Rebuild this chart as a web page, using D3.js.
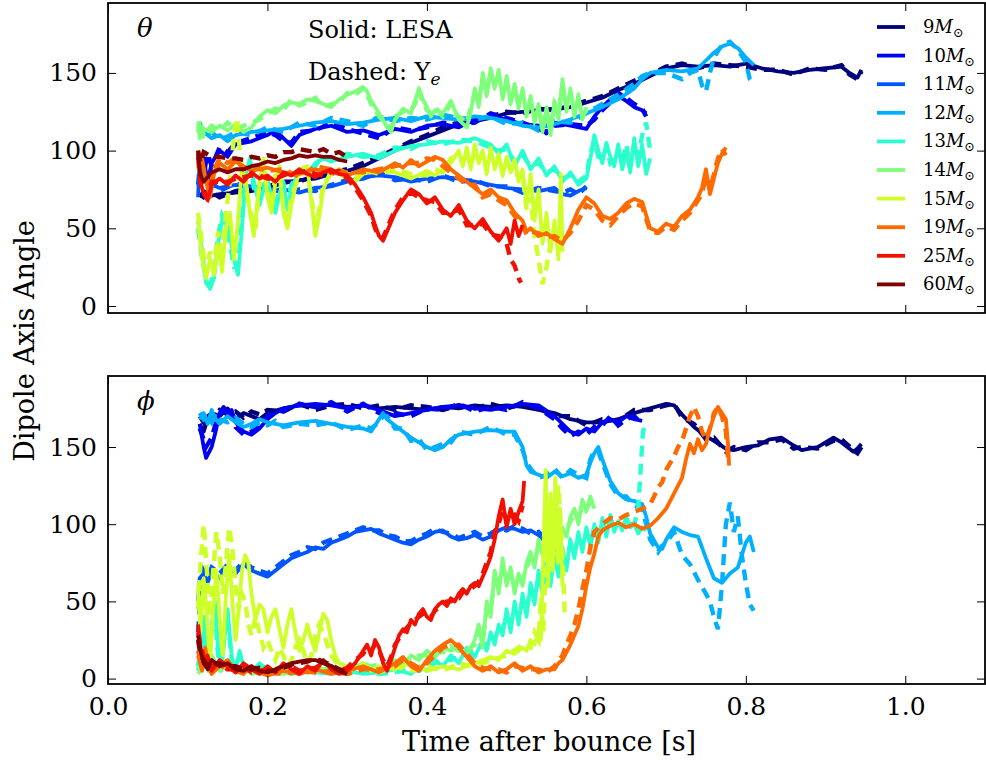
<!DOCTYPE html>
<html><head><meta charset="utf-8">
<script src="https://cdn.jsdelivr.net/npm/d3@7"></script>
<style>body{margin:0;background:#fff}svg{display:block}text{font-family:"DejaVu Serif",serif;fill:#000}</style>
</head><body><svg id="c" width="986" height="763"></svg>
<script>
const masses = [9,10,11,12,13,14,15,19,25,60];
const colors = ["#00007f","#0000f0","#0055ff","#00b0ff","#2affd0","#7dff7a","#ceff29","#ff6a00","#f01000","#800000"];
const xTicks = [0,0.2,0.4,0.6,0.8,1.0];
const yTicks = [0,50,100,150];

// ---------- theta panel (solid: LESA, dashed: Ye) ----------
const theta9L=[[0.115,70],[0.12,74],[0.13,71],[0.14,72],[0.16,73],[0.18,74],[0.2,76],[0.22,79],[0.24,81],[0.26,82],[0.28,85],[0.3,87],[0.32,90],[0.34,95],[0.36,100],[0.38,105],[0.4,109],[0.42,113],[0.44,117],[0.46,119],[0.48,121],[0.5,124],[0.52,125],[0.54,126],[0.56,127],[0.58,128],[0.6,131],[0.62,134],[0.64,139],[0.66,143],[0.68,148],[0.7,153],[0.72,155],[0.74,154],[0.76,155],[0.78,154],[0.8,156],[0.82,153],[0.84,151],[0.86,150],[0.88,152],[0.9,153],[0.92,154],[0.93,150],[0.94,147],[0.945,152]];
const theta9Y=[[0.115,72],[0.12,70],[0.13,73],[0.14,70],[0.16,74],[0.18,76],[0.2,77],[0.22,80],[0.24,80],[0.26,84],[0.28,86],[0.3,88],[0.32,92],[0.34,96],[0.36,101],[0.38,106],[0.4,110],[0.42,115],[0.44,118],[0.46,120],[0.48,122],[0.5,125],[0.52,124],[0.54,127],[0.56,126],[0.58,129],[0.6,132],[0.62,135],[0.64,140],[0.66,145],[0.68,149],[0.7,154],[0.72,156],[0.74,153],[0.76,156],[0.78,155],[0.8,154],[0.82,152],[0.84,152],[0.86,149],[0.88,153],[0.9,152],[0.92,155],[0.93,149],[0.94,146],[0.945,151]];
const theta10L=[[0.115,88],[0.12,95],[0.125,80],[0.13,92],[0.14,100],[0.15,96],[0.16,104],[0.18,106],[0.2,110],[0.21,113],[0.22,108],[0.23,103],[0.24,110],[0.26,114],[0.28,116],[0.3,112],[0.32,113],[0.34,110],[0.36,114],[0.38,112],[0.4,116],[0.42,117],[0.44,115],[0.46,120],[0.48,122],[0.5,120],[0.52,117],[0.54,116],[0.55,111],[0.56,118],[0.58,116],[0.6,114],[0.61,122],[0.62,128],[0.63,133],[0.64,135],[0.65,132],[0.66,128],[0.67,126],[0.675,124]];
const theta10Y=[[0.115,92],[0.12,85],[0.125,98],[0.13,90],[0.14,102],[0.15,99],[0.16,105],[0.18,108],[0.2,112],[0.21,110],[0.22,106],[0.23,105],[0.24,112],[0.26,113],[0.28,118],[0.3,114],[0.32,111],[0.34,108],[0.36,115],[0.38,113],[0.4,115],[0.42,118],[0.44,117],[0.46,118],[0.48,124],[0.5,121],[0.52,118],[0.54,114],[0.55,112],[0.56,116],[0.58,117],[0.6,116],[0.61,120],[0.62,126],[0.63,131],[0.64,137],[0.65,134],[0.66,130],[0.67,127],[0.675,122]];
const theta11L=[[0.113,70],[0.115,95],[0.12,85],[0.13,78],[0.14,76],[0.16,78],[0.18,77],[0.2,74],[0.22,75],[0.24,73],[0.26,76],[0.28,77],[0.3,80],[0.32,83],[0.34,84],[0.36,83],[0.38,80],[0.4,82],[0.42,83],[0.44,82],[0.46,80],[0.48,78],[0.5,76],[0.52,75],[0.54,74],[0.56,76],[0.57,72],[0.58,71],[0.59,74],[0.6,76]];
const theta11Y=[[0.113,78],[0.115,90],[0.12,82],[0.13,80],[0.14,74],[0.16,79],[0.18,75],[0.2,76],[0.22,73],[0.24,75],[0.26,74],[0.28,78],[0.3,81],[0.32,82],[0.34,86],[0.36,81],[0.38,82],[0.4,80],[0.42,84],[0.44,80],[0.46,81],[0.48,77],[0.5,77],[0.52,73],[0.54,76],[0.56,74],[0.57,73],[0.58,75],[0.59,72],[0.6,77]];
const theta12L=[[0.115,115],[0.12,112],[0.13,108],[0.14,110],[0.15,106],[0.16,110],[0.18,112],[0.2,113],[0.22,114],[0.24,116],[0.26,118],[0.28,119],[0.3,117],[0.32,118],[0.34,120],[0.36,121],[0.38,119],[0.4,122],[0.42,121],[0.44,120],[0.46,122],[0.48,121],[0.5,119],[0.52,116],[0.54,115],[0.56,117],[0.58,120],[0.6,124],[0.62,128],[0.64,133],[0.66,140],[0.67,146],[0.68,150],[0.7,152],[0.72,151],[0.74,153],[0.75,158],[0.76,163],[0.77,167],[0.78,169],[0.79,166],[0.8,160],[0.81,155]];
const theta12Y=[[0.115,118],[0.12,110],[0.13,112],[0.14,107],[0.15,109],[0.16,112],[0.18,110],[0.2,115],[0.22,112],[0.24,118],[0.26,116],[0.28,121],[0.3,119],[0.32,116],[0.34,122],[0.36,119],[0.38,121],[0.4,120],[0.42,123],[0.44,121],[0.46,120],[0.48,122],[0.5,117],[0.52,118],[0.54,113],[0.56,119],[0.58,118],[0.6,124],[0.62,130],[0.64,136],[0.66,143],[0.67,148],[0.68,150],[0.7,150],[0.72,146],[0.73,150],[0.74,152],[0.745,142],[0.75,138],[0.755,150],[0.76,160],[0.77,168],[0.78,170],[0.79,165],[0.8,157],[0.805,146],[0.81,143]];
const theta13L=[[0.113,55],[0.118,35],[0.123,15],[0.128,11],[0.133,18],[0.138,40],[0.143,55],[0.148,58],[0.153,45],[0.158,30],[0.163,20],[0.168,50],[0.173,85],[0.178,95],[0.183,80],[0.19,65],[0.195,75],[0.2,82],[0.205,70],[0.21,60],[0.215,72],[0.22,80],[0.225,62],[0.23,75],[0.24,88],[0.25,85],[0.26,92],[0.27,95],[0.28,93],[0.3,96],[0.32,98],[0.34,95],[0.36,100],[0.38,103],[0.4,104],[0.42,106],[0.44,105],[0.46,108],[0.48,104],[0.49,98],[0.5,104],[0.51,90],[0.52,100],[0.53,88],[0.54,95],[0.55,84],[0.56,90],[0.57,80],[0.58,86],[0.59,78],[0.6,82],[0.605,95],[0.61,110],[0.615,100],[0.62,92],[0.625,105],[0.63,96],[0.635,90],[0.64,104],[0.645,88],[0.65,100],[0.655,86],[0.66,108],[0.665,90],[0.67,104],[0.675,85],[0.68,95]];
const theta13Y=[[0.113,50],[0.118,30],[0.123,18],[0.128,14],[0.133,22],[0.138,45],[0.143,58],[0.148,52],[0.153,40],[0.158,25],[0.163,25],[0.168,55],[0.173,88],[0.178,92],[0.183,76],[0.19,68],[0.195,78],[0.2,80],[0.205,66],[0.21,64],[0.215,76],[0.22,78],[0.225,66],[0.23,78],[0.24,86],[0.25,88],[0.26,90],[0.27,97],[0.28,94],[0.3,98],[0.32,96],[0.34,97],[0.36,102],[0.38,101],[0.4,106],[0.42,104],[0.44,107],[0.46,106],[0.48,102],[0.49,100],[0.5,101],[0.51,93],[0.52,97],[0.53,90],[0.54,92],[0.55,86],[0.56,88],[0.57,82],[0.58,84],[0.59,80],[0.6,84],[0.605,98],[0.61,106],[0.615,96],[0.62,95],[0.625,102],[0.63,92],[0.635,95],[0.64,100],[0.645,92],[0.65,104],[0.655,90],[0.66,104],[0.665,95],[0.67,110],[0.675,118],[0.68,100]];
const theta14L=[[0.113,118],[0.115,108],[0.12,114],[0.13,112],[0.14,116],[0.15,113],[0.16,117],[0.17,112],[0.18,115],[0.19,122],[0.2,126],[0.21,124],[0.22,129],[0.23,131],[0.24,130],[0.25,133],[0.26,132],[0.27,130],[0.28,128],[0.29,133],[0.3,136],[0.31,138],[0.32,141],[0.325,138],[0.33,132],[0.34,124],[0.35,115],[0.355,112],[0.36,120],[0.37,127],[0.38,124],[0.385,132],[0.39,140],[0.395,133],[0.4,128],[0.405,122],[0.41,126],[0.42,124],[0.43,132],[0.435,126],[0.44,120],[0.45,115],[0.455,125],[0.46,140],[0.465,128],[0.47,150],[0.475,135],[0.48,153],[0.485,140],[0.49,152],[0.495,133],[0.5,148],[0.505,130],[0.51,143],[0.515,127],[0.52,140],[0.525,122],[0.53,135],[0.535,118],[0.54,130],[0.545,112],[0.55,128],[0.555,110],[0.56,132],[0.565,120],[0.57,146],[0.575,125],[0.58,140],[0.585,122],[0.59,136],[0.595,120],[0.6,128]];
const theta14Y=[[0.113,112],[0.115,120],[0.12,110],[0.13,116],[0.14,113],[0.15,118],[0.16,114],[0.17,116],[0.18,118],[0.19,120],[0.2,124],[0.21,127],[0.22,126],[0.23,133],[0.24,129],[0.25,131],[0.26,134],[0.27,128],[0.28,130],[0.29,131],[0.3,137],[0.31,136],[0.32,140],[0.325,136],[0.33,130],[0.34,122],[0.35,117],[0.355,114],[0.36,122],[0.37,125],[0.38,126],[0.385,130],[0.39,138],[0.395,131],[0.4,126],[0.405,124],[0.41,128],[0.42,122],[0.43,130],[0.435,124],[0.44,122],[0.45,118],[0.455,128],[0.46,136],[0.465,132],[0.47,146],[0.475,138],[0.48,150],[0.485,142],[0.49,148],[0.495,136],[0.5,145],[0.505,132],[0.51,140],[0.515,130],[0.52,137],[0.525,125],[0.53,132],[0.535,120],[0.54,127],[0.545,115],[0.55,125],[0.555,114],[0.56,130],[0.565,124],[0.57,142],[0.575,128],[0.58,137],[0.585,125],[0.59,133],[0.595,122],[0.6,126]];
const theta15L=[[0.113,55],[0.118,30],[0.123,18],[0.128,30],[0.133,20],[0.138,40],[0.143,22],[0.148,50],[0.153,60],[0.158,30],[0.163,55],[0.168,90],[0.173,80],[0.178,60],[0.183,45],[0.19,80],[0.195,95],[0.2,70],[0.205,60],[0.21,80],[0.215,90],[0.22,60],[0.225,50],[0.23,65],[0.24,88],[0.25,90],[0.255,68],[0.26,45],[0.265,58],[0.27,75],[0.28,88],[0.29,85],[0.3,82],[0.31,80],[0.32,85],[0.34,88],[0.36,86],[0.38,82],[0.4,87],[0.41,84],[0.42,88],[0.43,92],[0.44,100],[0.445,90],[0.45,102],[0.455,88],[0.46,104],[0.465,92],[0.47,100],[0.475,85],[0.48,102],[0.485,88],[0.49,98],[0.495,84],[0.5,96],[0.505,86],[0.51,94],[0.515,80],[0.52,88],[0.525,65],[0.53,85],[0.535,55],[0.54,75],[0.545,40],[0.55,60],[0.555,35],[0.56,55],[0.565,30],[0.568,85],[0.57,35]];
const theta15Y=[[0.113,60],[0.118,40],[0.123,22],[0.128,35],[0.133,25],[0.138,48],[0.143,30],[0.148,60],[0.153,80],[0.158,110],[0.162,121],[0.166,95],[0.17,85],[0.175,70],[0.18,58],[0.185,50],[0.19,78],[0.195,90],[0.2,74],[0.205,64],[0.21,84],[0.215,86],[0.22,64],[0.225,56],[0.23,70],[0.24,85],[0.25,86],[0.255,70],[0.26,52],[0.265,62],[0.27,78],[0.28,85],[0.29,88],[0.3,85],[0.31,82],[0.32,88],[0.34,85],[0.36,88],[0.38,85],[0.4,84],[0.41,88],[0.42,86],[0.43,95],[0.44,97],[0.445,92],[0.45,99],[0.455,90],[0.46,100],[0.465,94],[0.47,97],[0.475,88],[0.48,98],[0.485,90],[0.49,95],[0.495,86],[0.5,93],[0.505,88],[0.51,90],[0.515,82],[0.52,84],[0.525,62],[0.53,70],[0.535,45],[0.54,30],[0.545,14],[0.55,25],[0.555,40],[0.56,50],[0.565,38]];
const theta19L=[[0.113,88],[0.118,95],[0.123,80],[0.128,70],[0.133,85],[0.14,92],[0.15,88],[0.16,93],[0.17,90],[0.18,87],[0.2,89],[0.22,86],[0.24,85],[0.26,88],[0.28,86],[0.3,84],[0.32,88],[0.34,86],[0.36,92],[0.37,89],[0.38,94],[0.39,90],[0.4,93],[0.41,96],[0.42,94],[0.43,88],[0.44,84],[0.45,80],[0.46,76],[0.47,72],[0.48,75],[0.49,70],[0.5,68],[0.51,60],[0.52,55],[0.525,48],[0.53,50],[0.54,45],[0.55,47],[0.56,43],[0.57,40],[0.58,50],[0.59,62],[0.6,70],[0.61,66],[0.62,58],[0.63,56],[0.64,60],[0.65,66],[0.66,69],[0.67,67],[0.68,50],[0.69,48],[0.7,53],[0.71,51],[0.72,58],[0.73,62],[0.74,70],[0.745,76],[0.75,88],[0.755,72],[0.76,82],[0.765,92],[0.77,98],[0.775,102]];
const theta19Y=[[0.113,92],[0.118,90],[0.123,84],[0.128,74],[0.133,88],[0.14,95],[0.15,92],[0.16,95],[0.17,88],[0.18,90],[0.2,87],[0.22,88],[0.24,83],[0.26,90],[0.28,88],[0.3,86],[0.32,86],[0.34,88],[0.36,90],[0.37,91],[0.38,92],[0.39,92],[0.4,95],[0.41,94],[0.42,90],[0.43,86],[0.44,82],[0.45,78],[0.46,78],[0.47,70],[0.48,72],[0.49,68],[0.5,65],[0.51,58],[0.52,52],[0.525,46],[0.53,48],[0.54,47],[0.55,44],[0.56,45],[0.57,42],[0.58,47],[0.59,55],[0.6,65],[0.61,62],[0.62,55],[0.63,52],[0.64,58],[0.65,63],[0.66,66],[0.67,64],[0.68,48],[0.69,47],[0.7,51],[0.71,49],[0.72,55],[0.73,60],[0.74,68],[0.745,72],[0.75,84],[0.755,75],[0.76,85],[0.765,95],[0.77,101],[0.775,97]];
const theta25L=[[0.113,100],[0.116,80],[0.12,72],[0.125,68],[0.13,78],[0.14,82],[0.15,78],[0.16,84],[0.17,80],[0.18,86],[0.19,82],[0.2,84],[0.21,80],[0.22,86],[0.23,84],[0.24,88],[0.25,85],[0.26,83],[0.27,86],[0.28,88],[0.29,85],[0.3,84],[0.31,78],[0.32,70],[0.33,60],[0.335,52],[0.34,45],[0.345,42],[0.35,48],[0.36,60],[0.37,68],[0.38,75],[0.39,72],[0.4,66],[0.41,70],[0.42,62],[0.43,58],[0.44,65],[0.45,55],[0.46,50],[0.47,56],[0.48,48],[0.49,42],[0.5,50],[0.505,40],[0.51,55],[0.515,45],[0.52,52]];
const theta25Y=[[0.113,96],[0.116,78],[0.12,75],[0.125,70],[0.13,80],[0.14,80],[0.15,80],[0.16,82],[0.17,83],[0.18,84],[0.19,84],[0.2,82],[0.21,82],[0.22,84],[0.23,86],[0.24,86],[0.25,87],[0.26,85],[0.27,84],[0.28,86],[0.29,87],[0.3,82],[0.31,76],[0.32,68],[0.33,58],[0.335,50],[0.34,44],[0.345,44],[0.35,50],[0.36,62],[0.37,70],[0.38,73],[0.39,70],[0.4,68],[0.41,67],[0.42,60],[0.43,60],[0.44,62],[0.45,52],[0.46,52],[0.47,53],[0.48,46],[0.49,45],[0.5,40],[0.505,30],[0.51,26],[0.515,18],[0.518,15]];
const theta60L=[[0.113,98],[0.116,84],[0.12,80],[0.125,83],[0.13,86],[0.14,88],[0.15,86],[0.16,88],[0.17,88],[0.18,90],[0.19,91],[0.2,93],[0.21,92],[0.22,94],[0.23,95],[0.24,97],[0.25,96],[0.26,97],[0.27,96],[0.28,96],[0.29,94],[0.3,93]];
const theta60Y=[[0.113,100],[0.116,92],[0.12,99],[0.13,96],[0.14,96],[0.15,95],[0.16,95],[0.17,94],[0.18,96],[0.19,95],[0.2,97],[0.21,96],[0.22,99],[0.23,99],[0.24,101],[0.25,100],[0.26,99],[0.27,101],[0.28,98],[0.29,99],[0.3,96]];

// ---------- phi panel ----------
const phi9L=[[0.115,165],[0.12,160],[0.125,168],[0.13,172],[0.14,170],[0.15,175],[0.16,168],[0.17,172],[0.18,170],[0.19,168],[0.2,172],[0.22,175],[0.24,177],[0.26,176],[0.28,178],[0.3,176],[0.32,177],[0.34,175],[0.36,176],[0.38,175],[0.4,174],[0.42,176],[0.44,175],[0.46,177],[0.48,176],[0.5,177],[0.52,176],[0.54,174],[0.56,172],[0.58,168],[0.6,166],[0.62,166],[0.64,168],[0.66,172],[0.68,175],[0.7,178],[0.71,177],[0.72,171],[0.735,163],[0.75,157],[0.76,154],[0.775,149],[0.785,148],[0.8,150],[0.815,151],[0.83,155],[0.845,156],[0.86,151],[0.87,148],[0.89,150],[0.91,156],[0.92,153],[0.935,147],[0.94,149],[0.945,152]];
const phi9Y=[[0.115,170],[0.12,166],[0.125,172],[0.13,168],[0.14,174],[0.15,171],[0.16,173],[0.17,169],[0.18,173],[0.19,171],[0.2,174],[0.22,173],[0.24,178],[0.26,174],[0.28,177],[0.3,178],[0.32,175],[0.34,177],[0.36,174],[0.38,177],[0.4,176],[0.42,174],[0.44,177],[0.46,175],[0.48,178],[0.5,175],[0.52,178],[0.54,175],[0.56,170],[0.58,170],[0.6,164],[0.62,168],[0.64,167],[0.66,174],[0.68,174],[0.7,177],[0.71,178],[0.72,169],[0.735,165],[0.75,155],[0.76,156],[0.775,147],[0.785,150],[0.8,148],[0.815,153],[0.83,153],[0.845,155],[0.86,149],[0.87,150],[0.89,149],[0.91,154],[0.92,155],[0.935,148],[0.94,146],[0.945,150]];
const phi10L=[[0.115,165],[0.12,150],[0.123,143],[0.13,150],[0.135,160],[0.14,172],[0.145,176],[0.15,172],[0.155,174],[0.16,166],[0.17,160],[0.18,158],[0.19,162],[0.2,168],[0.21,172],[0.22,175],[0.24,177],[0.26,178],[0.28,177],[0.3,175],[0.32,177],[0.34,174],[0.36,170],[0.38,172],[0.4,174],[0.42,176],[0.44,177],[0.46,175],[0.48,174],[0.5,176],[0.52,178],[0.54,177],[0.56,170],[0.57,165],[0.58,160],[0.59,158],[0.6,162],[0.61,160],[0.62,166],[0.63,168],[0.64,166],[0.65,170],[0.66,168],[0.67,167]];
const phi10Y=[[0.115,162],[0.12,155],[0.123,150],[0.13,156],[0.135,165],[0.14,170],[0.145,174],[0.15,168],[0.155,171],[0.16,163],[0.17,158],[0.18,160],[0.19,164],[0.2,170],[0.21,174],[0.22,173],[0.24,178],[0.26,176],[0.28,179],[0.3,173],[0.32,178],[0.34,172],[0.36,172],[0.38,170],[0.4,175],[0.42,174],[0.44,178],[0.46,173],[0.48,176],[0.5,174],[0.52,179],[0.54,175],[0.56,168],[0.57,162],[0.58,157],[0.59,160],[0.6,158],[0.61,163],[0.62,164],[0.63,170],[0.64,164],[0.65,168],[0.66,170],[0.67,165]];
const phi11L=[[0.113,50],[0.115,65],[0.12,68],[0.125,62],[0.13,70],[0.14,65],[0.15,72],[0.16,68],[0.17,74],[0.18,70],[0.19,68],[0.2,66],[0.21,70],[0.22,74],[0.23,78],[0.24,80],[0.25,82],[0.26,85],[0.27,84],[0.28,88],[0.29,90],[0.3,92],[0.31,95],[0.32,96],[0.33,97],[0.34,94],[0.35,92],[0.36,90],[0.37,88],[0.38,87],[0.39,90],[0.4,92],[0.41,95],[0.42,96],[0.43,92],[0.44,90],[0.45,91],[0.46,93],[0.47,90],[0.48,92],[0.49,96],[0.5,98],[0.51,97],[0.52,95],[0.53,96],[0.54,93],[0.55,88],[0.56,86],[0.57,84]];
const phi11Y=[[0.113,30],[0.115,45],[0.118,62],[0.12,70],[0.125,66],[0.13,72],[0.14,68],[0.15,74],[0.16,70],[0.17,76],[0.18,72],[0.19,70],[0.2,68],[0.21,72],[0.22,76],[0.23,80],[0.24,82],[0.25,85],[0.26,84],[0.27,88],[0.28,90],[0.29,92],[0.3,94],[0.31,96],[0.32,98],[0.33,96],[0.34,96],[0.35,93],[0.36,92],[0.37,89],[0.38,89],[0.39,92],[0.4,94],[0.41,97],[0.42,95],[0.43,94],[0.44,91],[0.45,93],[0.46,95],[0.47,92],[0.48,94],[0.49,97],[0.5,96],[0.51,99],[0.52,97],[0.53,94],[0.54,95],[0.55,90],[0.56,84],[0.57,82]];
const phi12L=[[0.115,168],[0.12,172],[0.125,165],[0.13,174],[0.135,168],[0.14,165],[0.15,170],[0.16,166],[0.17,163],[0.18,165],[0.19,168],[0.2,166],[0.21,165],[0.22,164],[0.24,166],[0.26,167],[0.28,165],[0.3,163],[0.32,162],[0.33,160],[0.34,168],[0.345,172],[0.35,168],[0.36,164],[0.37,160],[0.38,156],[0.39,153],[0.4,150],[0.41,148],[0.42,150],[0.43,155],[0.44,158],[0.46,160],[0.48,161],[0.5,160],[0.51,160],[0.52,150],[0.525,138],[0.53,134],[0.54,132],[0.55,130],[0.56,134],[0.57,131],[0.58,133],[0.59,130],[0.6,132],[0.605,140],[0.61,146],[0.615,150],[0.62,142],[0.63,128],[0.64,120],[0.65,116],[0.66,115],[0.67,113],[0.675,105],[0.68,94],[0.69,85],[0.695,84],[0.7,90],[0.71,98],[0.72,95],[0.73,93],[0.74,92],[0.75,78],[0.76,65],[0.77,62],[0.78,68],[0.79,72],[0.8,88],[0.805,92],[0.81,82]];
const phi12Y=[[0.115,172],[0.12,168],[0.125,170],[0.13,166],[0.135,172],[0.14,168],[0.15,166],[0.16,169],[0.17,165],[0.18,163],[0.19,166],[0.2,164],[0.21,167],[0.22,163],[0.24,165],[0.26,164],[0.28,166],[0.3,161],[0.32,164],[0.33,162],[0.34,166],[0.345,170],[0.35,170],[0.36,162],[0.37,162],[0.38,154],[0.39,155],[0.4,148],[0.41,150],[0.42,152],[0.43,153],[0.44,160],[0.46,158],[0.48,163],[0.5,158],[0.51,158],[0.52,148],[0.525,140],[0.53,136],[0.54,130],[0.55,132],[0.56,136],[0.57,130],[0.58,135],[0.59,132],[0.6,130],[0.605,142],[0.61,148],[0.615,147],[0.62,140],[0.63,126],[0.64,118],[0.65,118],[0.66,112],[0.67,110],[0.675,100],[0.68,90],[0.69,82],[0.695,86],[0.7,88],[0.71,95],[0.72,80],[0.73,74],[0.74,64],[0.75,55],[0.755,50],[0.76,40],[0.765,32],[0.77,60],[0.775,100],[0.78,114],[0.785,95],[0.79,105],[0.795,80],[0.8,62],[0.805,48],[0.81,44]];
const phi13L=[[0.113,5],[0.117,20],[0.12,40],[0.123,15],[0.126,5],[0.13,30],[0.134,50],[0.138,20],[0.142,5],[0.146,25],[0.15,45],[0.155,15],[0.16,5],[0.165,18],[0.17,8],[0.18,4],[0.19,10],[0.2,6],[0.21,3],[0.22,8],[0.23,5],[0.24,3],[0.25,6],[0.26,4],[0.28,3],[0.3,5],[0.32,3],[0.34,4],[0.36,6],[0.38,3],[0.39,8],[0.4,5],[0.41,12],[0.42,8],[0.43,15],[0.44,10],[0.45,20],[0.46,14],[0.47,25],[0.475,18],[0.48,30],[0.485,22],[0.49,35],[0.495,28],[0.5,45],[0.505,30],[0.51,50],[0.515,35],[0.52,55],[0.525,40],[0.53,62],[0.535,48],[0.54,70],[0.545,55],[0.55,75],[0.555,60],[0.56,80],[0.565,66],[0.57,85],[0.575,70],[0.58,90],[0.585,78],[0.59,95],[0.595,82],[0.6,98],[0.605,85],[0.61,100],[0.615,88],[0.62,104],[0.625,92],[0.63,106],[0.635,95],[0.64,102],[0.645,96],[0.65,105],[0.655,98],[0.66,100],[0.665,94],[0.67,98],[0.675,96]];
const phi13Y=[[0.113,8],[0.117,25],[0.12,35],[0.123,10],[0.126,8],[0.13,35],[0.134,45],[0.138,15],[0.142,8],[0.146,30],[0.15,40],[0.155,12],[0.16,8],[0.165,15],[0.17,5],[0.18,6],[0.19,8],[0.2,4],[0.21,5],[0.22,6],[0.23,3],[0.24,5],[0.25,4],[0.26,6],[0.28,4],[0.3,3],[0.32,5],[0.34,3],[0.36,4],[0.38,6],[0.39,5],[0.4,8],[0.41,10],[0.42,12],[0.43,12],[0.44,14],[0.45,16],[0.46,18],[0.47,22],[0.475,22],[0.48,27],[0.485,26],[0.49,32],[0.495,32],[0.5,40],[0.505,35],[0.51,45],[0.515,40],[0.52,50],[0.525,45],[0.53,58],[0.535,52],[0.54,66],[0.545,58],[0.55,72],[0.555,64],[0.56,78],[0.565,70],[0.57,82],[0.575,74],[0.58,88],[0.585,82],[0.59,92],[0.595,86],[0.6,95],[0.605,88],[0.61,98],[0.615,92],[0.62,100],[0.625,95],[0.63,103],[0.635,98],[0.64,100],[0.645,98],[0.65,102],[0.655,100],[0.66,100],[0.665,110],[0.668,135],[0.671,160],[0.673,164]];
const phi14L=[[0.113,3],[0.12,8],[0.13,15],[0.14,5],[0.15,10],[0.16,4],[0.17,8],[0.18,3],[0.2,5],[0.22,3],[0.24,6],[0.26,4],[0.28,8],[0.3,5],[0.32,10],[0.34,6],[0.36,12],[0.37,8],[0.38,15],[0.39,12],[0.4,18],[0.41,14],[0.42,20],[0.43,18],[0.44,20],[0.45,15],[0.46,25],[0.465,35],[0.47,20],[0.475,50],[0.48,40],[0.485,70],[0.49,55],[0.495,78],[0.5,60],[0.505,72],[0.51,55],[0.515,68],[0.52,60],[0.525,75],[0.53,82],[0.535,72],[0.54,90],[0.545,80],[0.55,95],[0.555,85],[0.56,100],[0.565,88],[0.57,98],[0.575,92],[0.58,105],[0.585,110],[0.59,100],[0.595,116],[0.6,108],[0.605,118],[0.61,110]];
const phi14Y=[[0.113,6],[0.12,12],[0.13,10],[0.14,8],[0.15,6],[0.16,8],[0.17,5],[0.18,6],[0.2,3],[0.22,6],[0.24,4],[0.26,7],[0.28,5],[0.3,8],[0.32,7],[0.34,9],[0.36,9],[0.37,12],[0.38,12],[0.39,15],[0.4,15],[0.41,17],[0.42,17],[0.43,21],[0.44,18],[0.45,18],[0.46,22],[0.465,30],[0.47,25],[0.475,45],[0.48,45],[0.485,65],[0.49,60],[0.495,72],[0.5,66],[0.505,68],[0.51,60],[0.515,65],[0.52,64],[0.525,72],[0.53,78],[0.535,76],[0.54,86],[0.545,84],[0.55,92],[0.555,88],[0.56,96],[0.565,92],[0.57,95],[0.575,96],[0.58,102],[0.585,106],[0.59,104],[0.595,112],[0.6,110],[0.605,114],[0.61,112]];
const phi15L=[[0.113,60],[0.116,30],[0.12,65],[0.124,40],[0.128,10],[0.132,45],[0.136,70],[0.14,40],[0.144,15],[0.148,55],[0.152,80],[0.156,50],[0.16,25],[0.164,45],[0.168,70],[0.172,80],[0.176,75],[0.18,55],[0.185,38],[0.19,48],[0.195,45],[0.2,30],[0.205,40],[0.21,45],[0.215,32],[0.22,20],[0.225,35],[0.23,45],[0.235,30],[0.24,18],[0.245,25],[0.25,35],[0.255,25],[0.26,18],[0.265,30],[0.27,42],[0.275,38],[0.28,25],[0.285,15],[0.29,10],[0.3,8],[0.31,6],[0.32,10],[0.33,5],[0.34,8],[0.36,6],[0.38,10],[0.4,5],[0.42,8],[0.44,6],[0.46,10],[0.48,14],[0.49,12],[0.5,18],[0.51,16],[0.52,20],[0.525,18],[0.53,25],[0.535,22],[0.54,30],[0.543,25],[0.546,80],[0.549,135],[0.552,60],[0.555,120],[0.558,70],[0.561,130],[0.564,75],[0.567,110],[0.57,60]];
const phi15Y=[[0.113,45],[0.116,75],[0.12,100],[0.124,70],[0.128,40],[0.132,70],[0.136,95],[0.14,80],[0.144,55],[0.148,75],[0.152,98],[0.156,85],[0.16,60],[0.164,45],[0.168,55],[0.172,50],[0.176,35],[0.18,28],[0.185,40],[0.19,30],[0.195,20],[0.2,25],[0.205,18],[0.21,12],[0.215,20],[0.22,15],[0.225,8],[0.23,12],[0.235,20],[0.24,25],[0.245,18],[0.25,10],[0.255,15],[0.26,28],[0.265,35],[0.27,30],[0.275,22],[0.28,15],[0.29,8],[0.3,5],[0.32,8],[0.34,4],[0.36,8],[0.38,5],[0.4,8],[0.42,5],[0.44,10],[0.46,8],[0.48,12],[0.5,15],[0.52,22],[0.53,20],[0.535,30],[0.54,25],[0.543,53],[0.546,30],[0.55,90],[0.555,115],[0.56,95],[0.565,125],[0.57,80],[0.573,40]];
const phi19L=[[0.113,15],[0.118,5],[0.122,20],[0.126,8],[0.13,3],[0.14,8],[0.15,12],[0.16,5],[0.17,3],[0.18,8],[0.19,4],[0.2,2],[0.22,5],[0.24,3],[0.26,6],[0.28,3],[0.3,5],[0.32,8],[0.34,4],[0.36,10],[0.37,14],[0.38,8],[0.39,5],[0.4,12],[0.41,18],[0.42,22],[0.43,25],[0.44,20],[0.45,14],[0.46,8],[0.47,5],[0.48,8],[0.49,4],[0.5,6],[0.51,10],[0.52,5],[0.53,8],[0.54,4],[0.55,6],[0.56,6],[0.565,10],[0.57,12],[0.575,17],[0.58,22],[0.585,28],[0.59,34],[0.595,45],[0.6,60],[0.605,72],[0.61,81],[0.615,92],[0.62,96],[0.63,99],[0.64,101],[0.65,98],[0.66,100],[0.67,97],[0.68,99],[0.69,104],[0.7,110],[0.71,120],[0.72,130],[0.725,142],[0.73,152],[0.735,146],[0.74,155],[0.745,148],[0.75,152],[0.755,162],[0.76,170],[0.765,176],[0.77,172],[0.775,168],[0.778,150],[0.779,138]];
const phi19Y=[[0.113,18],[0.118,8],[0.122,15],[0.126,10],[0.13,5],[0.14,6],[0.15,10],[0.16,7],[0.17,4],[0.18,6],[0.19,6],[0.2,4],[0.22,3],[0.24,5],[0.26,4],[0.28,5],[0.3,3],[0.32,6],[0.34,6],[0.36,8],[0.37,12],[0.38,10],[0.39,7],[0.4,10],[0.41,15],[0.42,20],[0.43,22],[0.44,22],[0.45,16],[0.46,10],[0.47,7],[0.48,6],[0.49,6],[0.5,4],[0.51,8],[0.52,7],[0.53,6],[0.54,6],[0.55,4],[0.56,8],[0.565,12],[0.57,15],[0.575,22],[0.58,28],[0.585,35],[0.59,45],[0.595,58],[0.6,70],[0.605,85],[0.61,95],[0.62,100],[0.63,104],[0.64,103],[0.65,106],[0.66,108],[0.67,110],[0.68,113],[0.685,118],[0.69,124],[0.695,127],[0.7,135],[0.71,144],[0.715,150],[0.72,154],[0.725,162],[0.73,170],[0.735,176],[0.74,170],[0.745,160],[0.75,155],[0.755,162],[0.76,172],[0.765,176],[0.77,170],[0.775,160],[0.778,140]];
const phi25L=[[0.113,35],[0.116,20],[0.12,10],[0.125,15],[0.13,5],[0.14,12],[0.15,8],[0.16,4],[0.17,10],[0.18,6],[0.19,3],[0.2,8],[0.21,4],[0.22,10],[0.23,6],[0.24,3],[0.25,8],[0.26,5],[0.27,12],[0.28,6],[0.29,3],[0.3,5],[0.31,10],[0.32,18],[0.325,22],[0.33,15],[0.335,25],[0.34,20],[0.345,10],[0.35,5],[0.355,12],[0.36,20],[0.365,28],[0.37,32],[0.375,30],[0.38,38],[0.385,35],[0.39,42],[0.395,45],[0.4,40],[0.405,38],[0.41,45],[0.415,48],[0.42,50],[0.425,47],[0.43,52],[0.435,50],[0.44,55],[0.445,58],[0.45,55],[0.455,60],[0.46,62],[0.465,60],[0.47,66],[0.475,72],[0.48,79],[0.485,90],[0.49,105],[0.495,116],[0.5,98],[0.505,110],[0.51,100],[0.515,108],[0.52,115],[0.522,128]];
const phi25Y=[[0.113,30],[0.116,22],[0.12,14],[0.125,10],[0.13,8],[0.14,10],[0.15,6],[0.16,6],[0.17,8],[0.18,4],[0.19,5],[0.2,6],[0.21,6],[0.22,8],[0.23,8],[0.24,5],[0.25,6],[0.26,7],[0.27,10],[0.28,8],[0.29,5],[0.3,7],[0.31,12],[0.32,16],[0.325,20],[0.33,18],[0.335,22],[0.34,18],[0.345,12],[0.35,8],[0.355,14],[0.36,22],[0.365,26],[0.37,30],[0.375,33],[0.38,36],[0.385,38],[0.39,40],[0.395,42],[0.4,42],[0.405,40],[0.41,44],[0.415,46],[0.42,48],[0.425,50],[0.43,50],[0.435,52],[0.44,52],[0.445,56],[0.45,58],[0.455,58],[0.46,60],[0.465,63],[0.47,68],[0.475,75],[0.48,82],[0.485,95],[0.49,100],[0.495,110],[0.5,102],[0.505,104],[0.51,106],[0.515,102],[0.52,112]];
const phi60L=[[0.113,28],[0.116,18],[0.12,10],[0.125,6],[0.13,12],[0.14,8],[0.15,10],[0.16,6],[0.17,5],[0.18,8],[0.19,5],[0.2,4],[0.21,6],[0.22,8],[0.23,10],[0.24,11],[0.25,12],[0.26,12],[0.27,10],[0.28,8],[0.29,5],[0.3,3]];
const phi60Y=[[0.113,25],[0.116,15],[0.12,12],[0.125,8],[0.13,10],[0.14,10],[0.15,8],[0.16,8],[0.17,6],[0.18,6],[0.19,7],[0.2,5],[0.21,5],[0.22,7],[0.23,9],[0.24,10],[0.25,11],[0.26,13],[0.27,11],[0.28,9],[0.29,6],[0.3,4]];

const thetaLESA=[theta9L,theta10L,theta11L,theta12L,theta13L,theta14L,theta15L,theta19L,theta25L,theta60L];
const thetaYe=[theta9Y,theta10Y,theta11Y,theta12Y,theta13Y,theta14Y,theta15Y,theta19Y,theta25Y,theta60Y];
const phiLESA=[phi9L,phi10L,phi11L,phi12L,phi13L,phi14L,phi15L,phi19L,phi25L,phi60L];
const phiYe=[phi9Y,phi10Y,phi11Y,phi12Y,phi13Y,phi14Y,phi15Y,phi19Y,phi25Y,phi60Y];

const svg = d3.select("#c");
const L=108, R=985;
const x = d3.scaleLinear().domain([0,1.1]).range([L,R]);
const panels = [
  {top:3, bottom:313, dom:[-4.5,195], solid:thetaLESA, dashed:thetaYe, sym:"θ", labels:false, id:"p0"},
  {top:376, bottom:684, dom:[-3.5,196], solid:phiLESA, dashed:phiYe, sym:"ϕ", labels:true, id:"p1"}
];
const defs = svg.append("defs");
panels.forEach(p=>{
  const y = d3.scaleLinear().domain(p.dom).range([p.bottom,p.top]);
  defs.append("clipPath").attr("id",p.id).append("rect").attr("x",L).attr("y",p.top).attr("width",R-L).attr("height",p.bottom-p.top);
  const g = svg.append("g").attr("clip-path",`url(#${p.id})`);
  const line = d3.line().x(d=>x(d[0])).y(d=>y(d[1]));
  for(let i=0;i<masses.length;i++){
    g.append("path").datum(p.solid[i]).attr("d",line).attr("fill","none").attr("stroke",colors[i]).attr("stroke-width",3.8).attr("stroke-linejoin","round");
    g.append("path").datum(p.dashed[i]).attr("d",line).attr("fill","none").attr("stroke",colors[i]).attr("stroke-width",4.4).attr("stroke-dasharray","11,7");
  }
  const ax = svg.append("g");
  const yl = d3.axisLeft(y).tickValues(yTicks).tickSize(-8).tickPadding(11).tickFormat(d3.format("d"));
  const yr = d3.axisRight(y).tickValues(yTicks).tickSize(-8).tickFormat("");
  const xb = d3.axisBottom(x).tickValues(xTicks).tickSize(-8).tickPadding(13).tickFormat(p.labels?d3.format(".1f"):"");
  const xt = d3.axisTop(x).tickValues(xTicks).tickSize(-8).tickFormat("");
  ax.append("g").attr("transform",`translate(${L},0)`).call(yl);
  ax.append("g").attr("transform",`translate(${R},0)`).call(yr);
  ax.append("g").attr("transform",`translate(0,${p.bottom})`).call(xb);
  ax.append("g").attr("transform",`translate(0,${p.top})`).call(xt);
  ax.selectAll(".domain").remove();
  ax.selectAll(".tick line").attr("stroke","#000").attr("stroke-width",1);
  ax.selectAll(".tick text").style("font-family","'DejaVu Serif',serif").style("font-size","25px").attr("fill","#000");
  svg.append("rect").attr("x",L).attr("y",p.top).attr("width",R-L).attr("height",p.bottom-p.top)
     .attr("fill","none").attr("stroke","#000").attr("stroke-width",1.8);
  svg.append("text").attr("x",137).attr("y",p.top+34).style("font-size","26px").style("font-style","italic").text(p.sym);
});

svg.append("text").attr("x",308).attr("y",38).style("font-size","24px").text("Solid: LESA");
const dt = svg.append("text").attr("x",308).attr("y",80).style("font-size","24px");
dt.append("tspan").text("Dashed: Y");
dt.append("tspan").attr("dy",5).style("font-size","17px").style("font-style","italic").text("e");

const leg = svg.append("g");
masses.forEach((m,i)=>{
  const yy = 27 + i*28.6;
  leg.append("line").attr("x1",877).attr("x2",905).attr("y1",yy).attr("y2",yy).attr("stroke",colors[i]).attr("stroke-width",3.8);
  const t = leg.append("text").attr("x",923).attr("y",yy+6).style("font-size","18px");
  t.append("tspan").text(m);
  t.append("tspan").style("font-style","italic").text("M");
  t.append("tspan").attr("dy",4).style("font-size","13px").text("⊙");
});

svg.append("text").attr("x",549).attr("y",751).attr("text-anchor","middle").style("font-size","27px").text("Time after bounce [s]");
svg.append("text").attr("transform","translate(34,341) rotate(-90)").attr("text-anchor","middle").style("font-size","27px").text("Dipole Axis Angle");
</script></body></html>
